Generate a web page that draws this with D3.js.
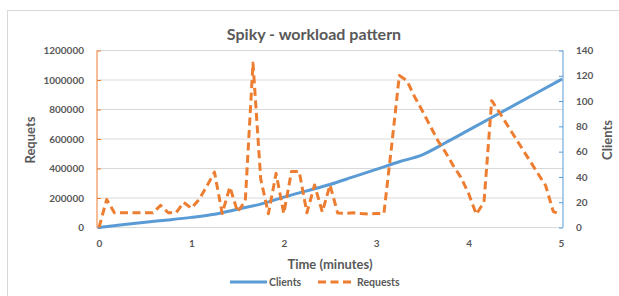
<!DOCTYPE html>
<html><head><meta charset="utf-8">
<script src="https://cdn.jsdelivr.net/npm/d3@7"></script>
<style>body{margin:0;background:#fff}svg{display:block}text{font-family:Lato,"Liberation Sans",sans-serif;font-weight:bold;fill:#595959}</style>
</head><body><svg id="c" width="619" height="296"></svg>
<script>
const title = "Spiky - workload pattern";
const xLabel = "Time (minutes)";
const yLeftLabel = "Requets";
const yRightLabel = "Clients";
const xTicks = [0,1,2,3,4,5];
const leftTicks = [0,200000,400000,600000,800000,1000000,1200000];
const rightTicks = [0,20,40,60,80,100,120,140];
// Requests: one sample every 5 seconds (time in minutes)
const reqTime = d3.range(61).map(i => i/12);
const requests = [
  0,190000,100000,100000,100000,100000,100000,100000,150000,100000,
  100000,170000,130000,190000,280000,375000,95000,275000,105000,180000,
  1115000,330000,93000,367000,95000,380000,380000,100000,288000,105000,
  288000,98000,95000,100000,95000,92000,95000,95000,550000,1030000,
  995000,885000,790000,690000,590000,510000,420000,340000,230000,90000,
  172000,860000,780000,697000,614000,531000,449000,366000,285000,108000,
  88000
];
// Clients: read every quarter minute
const cliTime = [0,0.25,0.5,0.75,1,1.25,1.5,1.75,2,2.25,2.5,2.75,3,3.25,3.5,3.75,4,4.25,4.5,4.75,5];
const clients = [0,2.2,4.2,6,8,10.5,14.5,18.5,24,29,34,40,46,52,57.5,67,77,87,97,107,117];
const legendItems = ["Clients","Requests"];

const orange = "#ED7D31", blue = "#5B9BD5", grid = "#D9D9D9";
const svg = d3.select("#c");
const L = 97, R = 563, T = 50.5, B = 227.5;
const x = d3.scaleLinear().domain([0,5]).range([99,561]);
const yL = d3.scaleLinear().domain([0,1200000]).range([B,T]);
const yR = d3.scaleLinear().domain([0,140]).range([B,T]);

svg.append("rect").attr("x",7.5).attr("y",10.5).attr("width",640).attr("height",300)
  .attr("fill","none").attr("stroke","#D9D9D9");

svg.append("text").attr("x",314).attr("y",40).attr("text-anchor","middle")
  .style("font-size","16px").text(title);

// gridlines
svg.append("g").selectAll("line").data(leftTicks).join("line")
  .attr("x1",L).attr("x2",R).attr("y1",d=>yL(d)).attr("y2",d=>yL(d))
  .attr("stroke",grid).attr("stroke-width",1);

// left axis
const gl = svg.append("g").attr("transform",`translate(${L},0)`)
  .call(d3.axisLeft(yL).tickValues(leftTicks).tickSize(-4).tickPadding(13).tickFormat(d3.format("d")));
gl.select(".domain").attr("stroke",orange).attr("d",`M0,${B}V${T}`);
gl.selectAll(".tick line").attr("stroke",orange);
gl.selectAll("text").style("font-size","10px").attr("fill","#595959").style("font-family",null);

// right axis
const gr = svg.append("g").attr("transform",`translate(${R},0)`)
  .call(d3.axisRight(yR).tickValues(rightTicks).tickSize(-4).tickPadding(13));
gr.select(".domain").attr("stroke",blue).attr("d",`M0,${B}V${T}`);
gr.selectAll(".tick line").attr("stroke",blue);
gr.selectAll("text").style("font-size","10px").attr("fill","#595959").style("font-family",null);

// x axis
const gx = svg.append("g").attr("transform",`translate(0,${B})`)
  .call(d3.axisBottom(x).tickValues(xTicks).tickSize(0).tickPadding(12).tickFormat(d3.format("d")));
gx.select(".domain").remove();
gx.selectAll("text").style("font-size","10px").attr("fill","#595959").style("font-family",null);

// axis titles
svg.append("text").attr("transform","translate(35,140) rotate(-90)").attr("text-anchor","middle")
  .style("font-size","13px").text(yLeftLabel);
svg.append("text").attr("transform","translate(612,140) rotate(-90)").attr("text-anchor","middle")
  .style("font-size","13px").text(yRightLabel);
svg.append("text").attr("x",330).attr("y",269).attr("text-anchor","middle")
  .style("font-size","13px").text(xLabel);

// lines
const cliLine = d3.line().curve(d3.curveMonotoneX).x((d,i)=>x(cliTime[i])).y(d=>yR(d));
svg.append("path").datum(clients).attr("d",cliLine).attr("fill","none")
  .attr("stroke",blue).attr("stroke-width",3).attr("stroke-linejoin","round").attr("stroke-linecap","round");
const reqLine = d3.line().x((d,i)=>x(reqTime[i])).y(d=>yL(d));
svg.append("path").datum(requests).attr("d",reqLine).attr("fill","none")
  .attr("stroke",orange).attr("stroke-width",3).attr("stroke-dasharray","8,4.5").attr("stroke-linejoin","round");

// legend
const lg = svg.append("g");
lg.append("line").attr("x1",230).attr("x2",267).attr("y1",282).attr("y2",282)
  .attr("stroke",blue).attr("stroke-width",3);
lg.append("text").attr("x",269).attr("y",286).style("font-size","10.5px").text(legendItems[0]);
lg.append("line").attr("x1",318).attr("x2",352).attr("y1",282).attr("y2",282)
  .attr("stroke",orange).attr("stroke-width",3).attr("stroke-dasharray","8,4.5");
lg.append("text").attr("x",357).attr("y",286).style("font-size","10.5px").text(legendItems[1]);
</script></body></html>
